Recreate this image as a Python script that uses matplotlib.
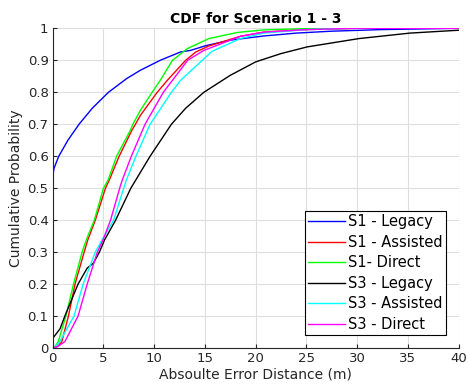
import matplotlib
matplotlib.use("Agg")
import matplotlib.pyplot as plt

# ---- data ----
s1_legacy_x = [0, 0, 0.05, 0.13, 0.6, 1.5, 2.6, 3.9, 5.5, 7.3, 8.65, 10.6, 12.6, 13.6, 15.0, 17.5, 20.8, 24.0, 27.5, 32.4, 40]
s1_legacy_y = [0, 0.52, 0.547, 0.562, 0.6, 0.65, 0.7, 0.75, 0.8, 0.843, 0.869, 0.9, 0.926, 0.931, 0.945, 0.963, 0.976, 0.985, 0.991, 0.996, 1.0]

s1_assisted_x = [0, 0.5, 0.9, 1.55, 2.2, 3.1, 3.45, 4.2, 5.2, 5.57, 6.55, 7.8, 8.15, 8.65, 10.3, 11.3, 13.1, 14.1, 15.4, 18.5, 20.8, 25, 30, 40]
s1_assisted_y = [0, 0.005, 0.02, 0.1, 0.2, 0.3, 0.3375, 0.4, 0.5, 0.525, 0.6, 0.681, 0.7, 0.728, 0.8, 0.8375, 0.9, 0.926, 0.945, 0.975, 0.988, 0.996, 1.0, 1.0]

s1_direct_x = [0, 0.2, 0.55, 1.3, 2.05, 2.9, 3.3, 4.1, 5.0, 5.45, 6.3, 7.65, 7.9, 8.65, 9.8, 10.6, 11.8, 13.3, 15.4, 18.2, 20.8, 25, 30, 40]
s1_direct_y = [0, 0.003, 0.02, 0.1, 0.2, 0.3, 0.3375, 0.4, 0.5, 0.525, 0.6, 0.681, 0.7, 0.744, 0.8, 0.8375, 0.9, 0.937, 0.968, 0.987, 0.995, 0.999, 1.0, 1.0]

s3_legacy_x = [0, 0, 0.72, 1.2, 2.5, 3.4, 4.0, 4.6, 5.1, 6.2, 7.7, 9.6, 11.7, 13.1, 14.9, 17.5, 20.0, 22.5, 25.1, 30.2, 35.2, 40]
s3_legacy_y = [0, 0.03, 0.06, 0.1, 0.2, 0.25, 0.265, 0.3, 0.3375, 0.4, 0.5, 0.6, 0.7, 0.75, 0.8, 0.853, 0.895, 0.921, 0.942, 0.968, 0.985, 0.994]

s3_assisted_x = [0, 0.3, 0.7, 2.1, 3.0, 4.2, 4.85, 6.0, 7.0, 7.25, 8.2, 9.6, 11.7, 12.6, 14.75, 15.7, 18.5, 20.8, 25, 30, 40]
s3_assisted_y = [0, 0.005, 0.02, 0.1, 0.2, 0.3, 0.3375, 0.4, 0.5, 0.525, 0.6, 0.7, 0.8, 0.8375, 0.9, 0.928, 0.968, 0.985, 0.996, 1.0, 1.0]

s3_direct_x = [0, 0.5, 1.2, 2.5, 3.4, 4.4, 4.95, 5.7, 6.6, 6.85, 7.75, 9.1, 10.9, 11.8, 13.3, 14.9, 18.5, 20.8, 25, 30, 40]
s3_direct_y = [0, 0.005, 0.02, 0.1, 0.2, 0.3, 0.3375, 0.4, 0.5, 0.525, 0.6, 0.7, 0.8, 0.8375, 0.9, 0.931, 0.975, 0.988, 0.996, 1.0, 1.0]

labels = ["S1 - Legacy", "S1 - Assisted", "S1- Direct", "S3 - Legacy", "S3 - Assisted", "S3 - Direct"]
x_ticks = [0, 5, 10, 15, 20, 25, 30, 35, 40]
y_ticks = [0, 0.1, 0.2, 0.3, 0.4, 0.5, 0.6, 0.7, 0.8, 0.9, 1]
y_tick_labels = ["0", "0.1", "0.2", "0.3", "0.4", "0.5", "0.6", "0.7", "0.8", "0.9", "1"]

series = [
    (s1_legacy_x, s1_legacy_y, (0, 0, 1)),
    (s1_assisted_x, s1_assisted_y, (1, 0, 0)),
    (s1_direct_x, s1_direct_y, (0, 1, 0)),
    (s3_legacy_x, s3_legacy_y, (0, 0, 0)),
    (s3_assisted_x, s3_assisted_y, (0, 1, 1)),
    (s3_direct_x, s3_direct_y, (1, 0, 1)),
]

plt.rcParams['font.family'] = ['DejaVu Sans']
fig = plt.figure(figsize=(4.68, 3.92), dpi=100)
ax = fig.add_axes([0.1126, 0.1122, 0.8675, 0.8156])

for (xs, ys, c), lab in zip(series, labels):
    ax.plot(xs, ys, color=c, lw=1.0, label=lab)

axc = (0.15, 0.15, 0.15)
ax.set_xlim(0, 40)
ax.set_ylim(0, 1)
ax.set_xticks(x_ticks)
ax.set_yticks(y_ticks)
ax.set_yticklabels(y_tick_labels)
ax.grid(True, color=(0.87, 0.87, 0.87), lw=0.8)
ax.set_axisbelow(True)
for s in ['top', 'right']:
    ax.spines[s].set_visible(False)
for s in ['left', 'bottom']:
    ax.spines[s].set_color(axc)
    ax.spines[s].set_linewidth(0.8)
ax.tick_params(direction='in', length=3, width=0.8, colors=axc, labelsize=9.5, pad=3)

ax.set_title("CDF for Scenario 1 - 3", fontsize=10, fontweight='bold', pad=4)
ax.set_xlabel("Absoulte Error Distance (m)", fontsize=10, color=axc, labelpad=2)
ax.set_ylabel("Cumulative Probability", fontsize=10, color=axc, labelpad=3)

leg = ax.legend(loc='lower right', bbox_to_anchor=(0.968, 0.041), borderaxespad=0,
                fontsize=10.5, handlelength=2.5, handletextpad=0.25, labelspacing=0.38,
                borderpad=0.2, fancybox=False, framealpha=1, edgecolor='black')
leg.get_frame().set_linewidth(0.8)

fig.savefig("out.png", dpi=100)
